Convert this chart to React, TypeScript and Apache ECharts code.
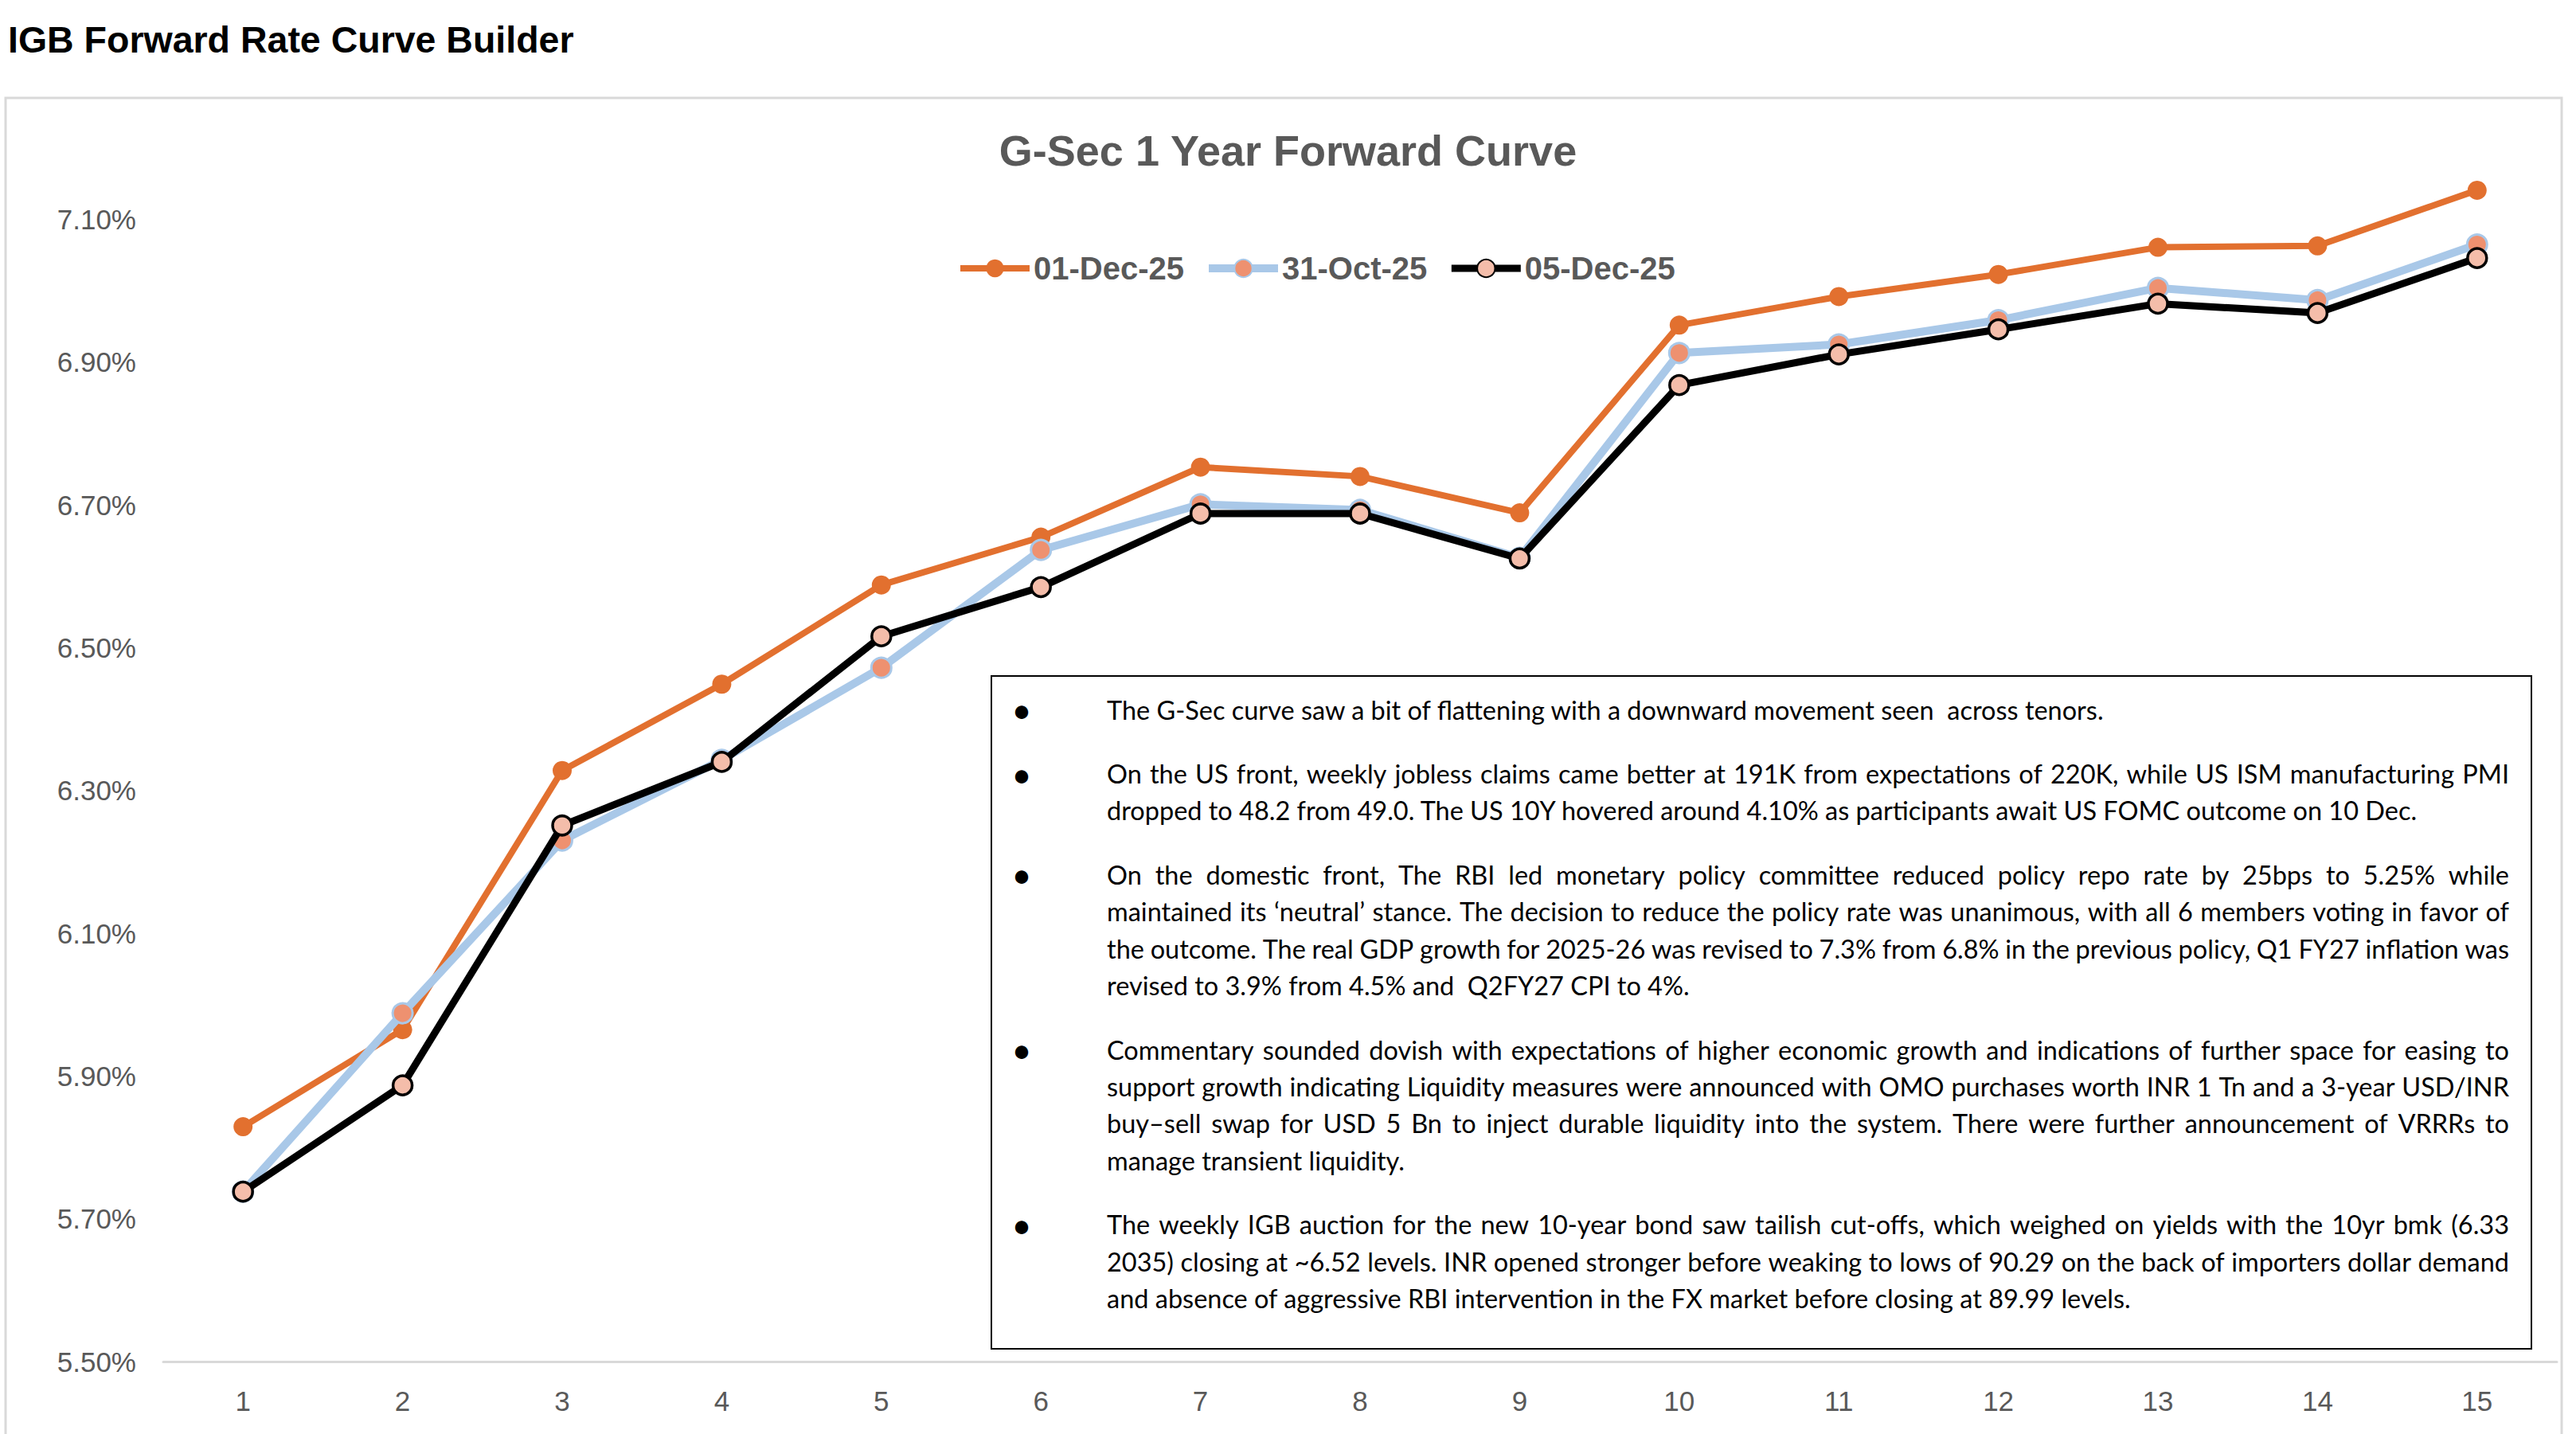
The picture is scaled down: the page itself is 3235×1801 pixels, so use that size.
import React, { useEffect, useRef } from 'react';
import * as echarts from 'echarts';

// ---------- data ----------
const tenors = ['1', '2', '3', '4', '5', '6', '7', '8', '9', '10', '11', '12', '13', '14', '15'];
const seriesNames = ['01-Dec-25', '31-Oct-25', '05-Dec-25'];
const dec01 = [5.829, 5.965, 6.328, 6.449, 6.588, 6.655, 6.753, 6.74, 6.689, 6.952, 6.992, 7.023, 7.061, 7.063, 7.141];
const oct31 = [5.738, 5.988, 6.23, 6.343, 6.472, 6.637, 6.701, 6.693, 6.626, 6.913, 6.925, 6.959, 7.004, 6.987, 7.065];
const dec05 = [5.738, 5.887, 6.251, 6.34, 6.516, 6.585, 6.688, 6.688, 6.625, 6.868, 6.911, 6.946, 6.982, 6.969, 7.046];
const yMin = 5.5;
const yMax = 7.2;
const yStep = 0.2;

const pageTitle = 'IGB Forward Rate Curve Builder';
const chartTitle = 'G-Sec 1 Year Forward Curve';

const commentary: string[][] = [
  ['The G-Sec curve saw a bit of flattening with a downward movement seen  across tenors.'],
  [
    'On the US front, weekly jobless claims came better at 191K from expectations of 220K, while US ISM manufacturing PMI',
    'dropped to 48.2 from 49.0. The US 10Y hovered around 4.10% as participants await US FOMC outcome on 10 Dec.',
  ],
  [
    'On the domestic front, The RBI led monetary policy committee reduced policy repo rate by 25bps to 5.25% while',
    'maintained its \u2018neutral\u2019 stance. The decision to reduce the policy rate was unanimous, with all 6 members voting in favor of',
    'the outcome. The real GDP growth for 2025-26 was revised to 7.3% from 6.8% in the previous policy, Q1 FY27 inflation was',
    'revised to 3.9% from 4.5% and  Q2FY27 CPI to 4%.',
  ],
  [
    'Commentary sounded dovish with expectations of higher economic growth and indications of further space for easing to',
    'support growth indicating Liquidity measures were announced with OMO purchases worth INR 1 Tn and a 3-year USD/INR',
    'buy\u2013sell swap for USD 5 Bn to inject durable liquidity into the system. There were further announcement of VRRRs to',
    'manage transient liquidity.',
  ],
  [
    'The weekly IGB auction for the new 10-year bond saw tailish cut-offs, which weighed on yields with the 10yr bmk (6.33',
    '2035) closing at ~6.52 levels. INR opened stronger before weaking to lows of 90.29 on the back of importers dollar demand',
    'and absence of aggressive RBI intervention in the FX market before closing at 89.99 levels.',
  ],
];

const AXIS_FONT = "'Liberation Sans', Arial, sans-serif";
const BODY_FONT = "Lato, 'Liberation Sans', sans-serif";

function buildCommentary(): any[] {
  const canvas = document.createElement('canvas');
  const ctx = canvas.getContext('2d') as CanvasRenderingContext2D;
  const measure = (t: string, size: number) => {
    ctx.font = `${size}px ${BODY_FONT}`;
    return ctx.measureText(t).width;
  };
  const x0 = 1390;
  const x1 = 3151;
  const targetFirst = 1254;
  const fs = Math.min(36, (100 * targetFirst) / measure(commentary[0][0], 100));
  const lineH = 46.4;
  const paraGap = 80.5;
  const els: any[] = [];
  els.push({
    type: 'rect',
    shape: { x: 1245, y: 849, width: 1934, height: 845 },
    style: { fill: '#ffffff', stroke: '#000000', lineWidth: 2 },
    z: 10,
  });
  let y = 891;
  commentary.forEach((para, pi) => {
    if (pi > 0) y += paraGap;
    para.forEach((line, li) => {
      if (li > 0) y += lineH;
      if (li === 0) {
        els.push({
          type: 'text',
          x: 1283,
          y: y,
          z: 11,
          style: {
            text: '\u2022',
            fontSize: 44,
            fontFamily: BODY_FONT,
            fill: '#000',
            textAlign: 'center',
            textVerticalAlign: 'middle',
            verticalAlign: 'middle',
          },
        });
      }
      const isLast = li === para.length - 1;
      if (isLast) {
        els.push({
          type: 'text',
          x: x0,
          y: y,
          z: 11,
          style: {
            text: line,
            fontSize: fs,
            fontFamily: BODY_FONT,
            fill: '#000',
            textAlign: 'left',
            textVerticalAlign: 'middle',
            verticalAlign: 'middle',
          },
        });
      } else {
        const words = line.split(' ').filter((w) => w.length > 0);
        const widths = words.map((w) => measure(w, fs));
        const total = widths.reduce((a, b) => a + b, 0);
        const gap = (x1 - x0 - total) / (words.length - 1);
        let cx = x0;
        words.forEach((w, wi) => {
          els.push({
            type: 'text',
            x: cx,
            y: y,
            z: 11,
            style: {
              text: w,
              fontSize: fs,
              fontFamily: BODY_FONT,
              fill: '#000',
              textAlign: 'left',
              textVerticalAlign: 'middle',
              verticalAlign: 'middle',
            },
          });
          cx += widths[wi] + gap;
        });
      }
    });
  });
  return els;
}

export default function App() {
  const ref = useRef<HTMLDivElement>(null);
  useEffect(() => {
    if (!ref.current) return;
    const chart = echarts.init(ref.current, undefined, { renderer: 'svg' });
    const graphics: any[] = [
      {
        type: 'rect',
        shape: { x: 7, y: 123, width: 3210, height: 1760 },
        style: { fill: 'none', stroke: '#D9D9D9', lineWidth: 3 },
        z: 0,
        silent: true,
      },
      ...buildCommentary(),
    ];
    chart.setOption({
      animation: false,
      backgroundColor: '#ffffff',
      title: [
        {
          text: pageTitle,
          left: 10,
          top: 26,
          padding: 0,
          textStyle: { fontSize: 46.5, fontWeight: 'bold', color: '#000000', fontFamily: AXIS_FONT },
        },
        {
          text: chartTitle,
          left: 'center',
          top: 162,
          padding: 0,
          textStyle: { fontSize: 54, fontWeight: 'bold', color: '#595959', fontFamily: AXIS_FONT },
        },
      ],
      legend: {
        data: seriesNames,
        left: 1202,
        top: 317,
        padding: 0,
        itemWidth: 87,
        itemHeight: 28,
        itemGap: 26,
        lineStyle: { width: 'inherit' },
        textStyle: { fontSize: 40, fontWeight: 'bold', color: '#595959', fontFamily: AXIS_FONT },
      },
      grid: { left: 205, right: 24, top: 186, bottom: 91, containLabel: false },
      xAxis: {
        type: 'category',
        data: tenors,
        boundaryGap: true,
        axisLine: { show: true, lineStyle: { color: '#D9D9D9', width: 3 } },
        axisTick: { show: false },
        axisLabel: { color: '#595959', fontSize: 35, margin: 32, fontFamily: AXIS_FONT },
        splitLine: { show: false },
      },
      yAxis: {
        type: 'value',
        min: yMin,
        max: yMax,
        interval: yStep,
        axisLine: { show: false },
        axisTick: { show: false },
        splitLine: { show: false },
        axisLabel: {
          color: '#595959',
          fontSize: 35,
          margin: 34,
          fontFamily: AXIS_FONT,
          showMaxLabel: false,
          formatter: (v: number) => v.toFixed(2) + '%',
        },
      },
      series: [
        {
          name: seriesNames[0],
          type: 'line',
          data: dec01,
          symbol: 'circle',
          symbolSize: 24,
          lineStyle: { color: '#E2702F', width: 8 },
          itemStyle: { color: '#E2702F' },
          z: 2,
        },
        {
          name: seriesNames[1],
          type: 'line',
          data: oct31,
          symbol: 'circle',
          symbolSize: 25,
          lineStyle: { color: '#A9C8E8', width: 10 },
          itemStyle: { color: '#EE9170', borderColor: '#A9C8E8', borderWidth: 3 },
          z: 3,
        },
        {
          name: seriesNames[2],
          type: 'line',
          data: dec05,
          symbol: 'circle',
          symbolSize: 24,
          lineStyle: { color: '#000000', width: 9 },
          itemStyle: { color: '#F4BDAA', borderColor: '#000000', borderWidth: 3.5 },
          z: 4,
        },
      ],
      graphic: graphics,
    });
    return () => chart.dispose();
  }, []);
  return (
    <div
      ref={ref}
      style={{ position: 'absolute', left: 0, top: 0, width: '3235px', height: '1801px', overflow: 'hidden' }}
    />
  );
}
